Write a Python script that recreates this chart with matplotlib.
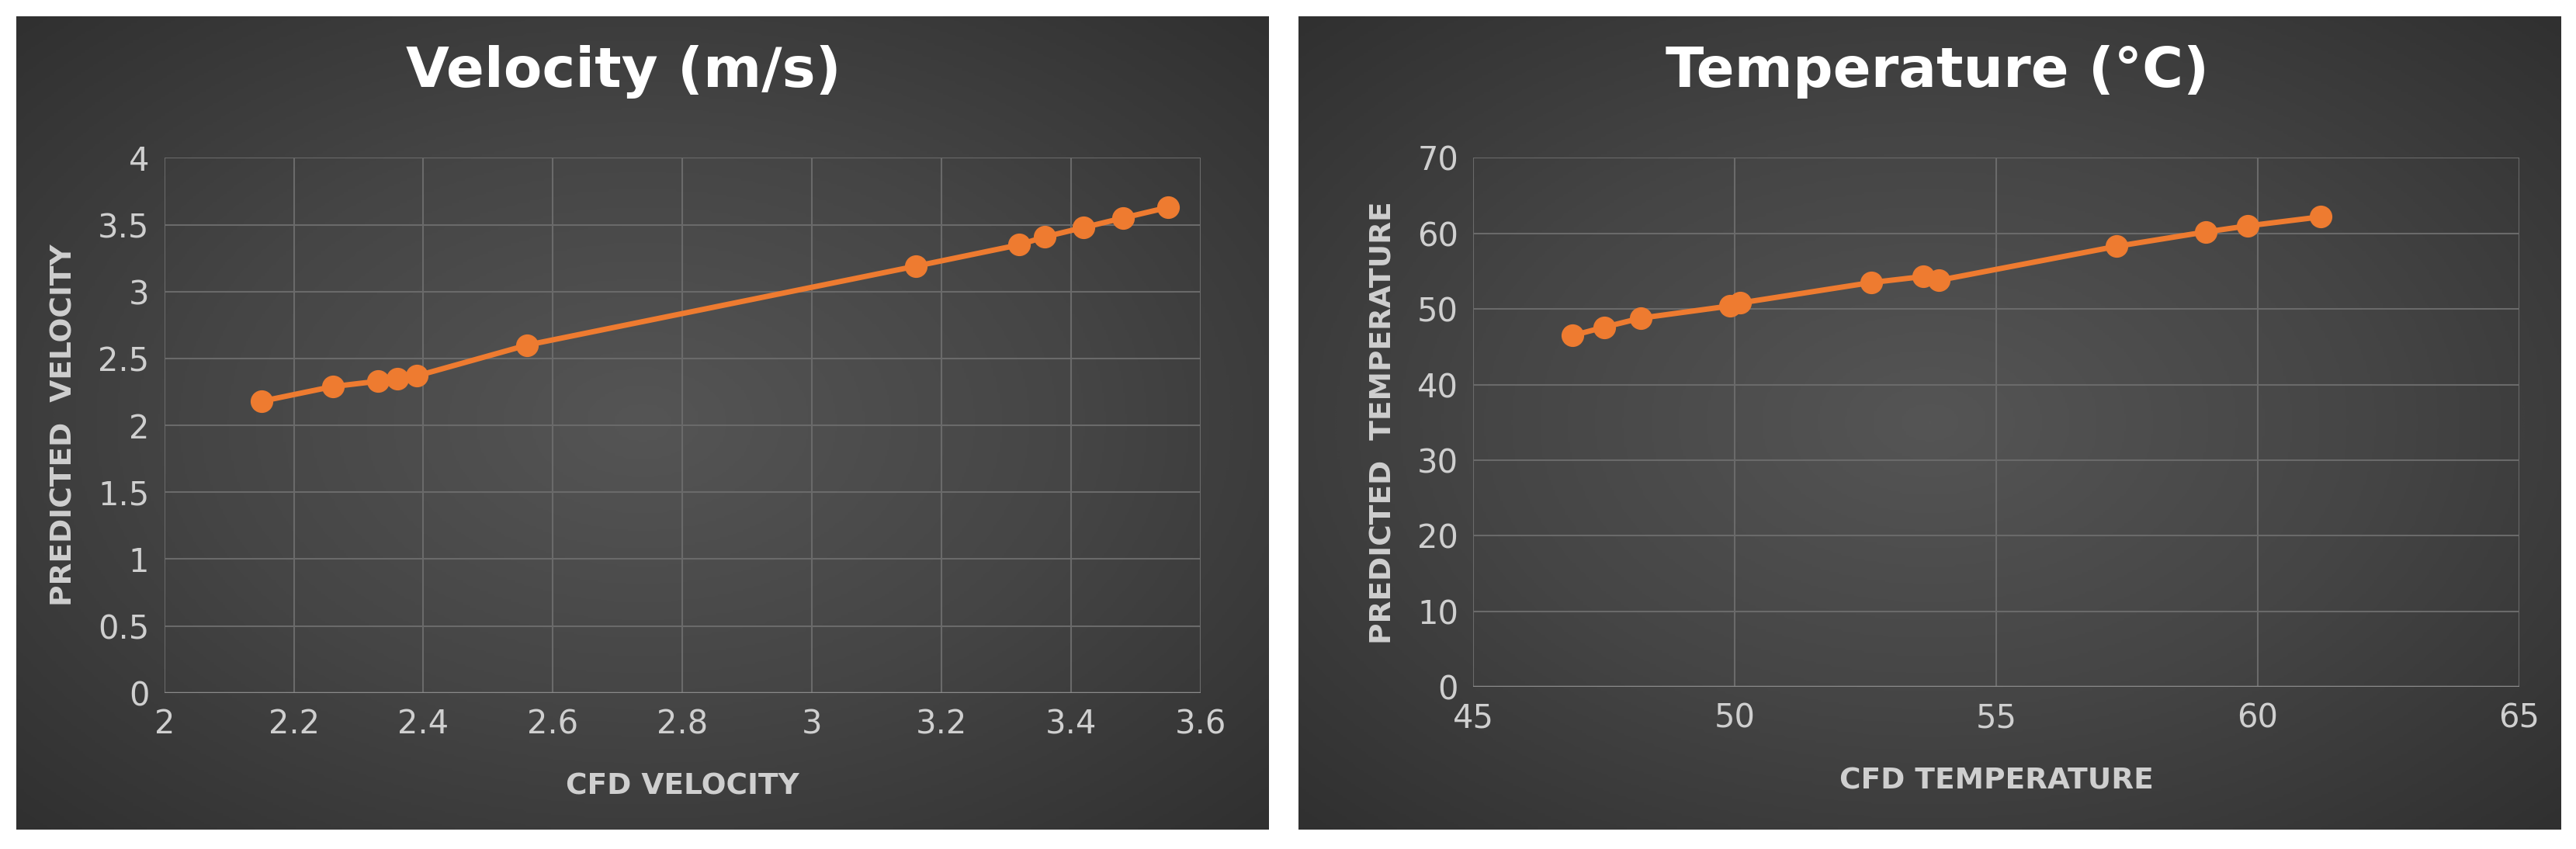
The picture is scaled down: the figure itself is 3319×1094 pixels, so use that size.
import numpy as np
import matplotlib
matplotlib.use('Agg')
import matplotlib.pyplot as plt
from matplotlib.colors import LinearSegmentedColormap

vel_cfd = [2.15, 2.26, 2.33, 2.36, 2.39, 2.56, 3.16, 3.32, 3.36, 3.42, 3.48, 3.55]
vel_pred = [2.18, 2.29, 2.33, 2.35, 2.37, 2.60, 3.19, 3.35, 3.41, 3.48, 3.55, 3.63]
temp_cfd = [46.9, 47.5, 48.2, 49.9, 50.1, 52.6, 53.6, 53.9, 57.3, 59.0, 59.8, 61.2]
temp_pred = [46.5, 47.6, 48.8, 50.4, 50.8, 53.5, 54.3, 53.8, 58.3, 60.2, 61.0, 62.2]

orange = '#EE7B30'
txt = '#cfcfcf'

fig = plt.figure(figsize=(33.19, 10.94), dpi=100)
fig.patch.set_facecolor('white')

# radial dark backgrounds
cmap = LinearSegmentedColormap.from_list('bg', ['#555555', '#454545', '#303030'])
yy, xx = np.mgrid[-1:1:300j, -1:1:600j]
grad = np.sqrt(xx ** 2 + yy ** 2)
for rect in ([0.0064, 0.023, 0.486, 0.958], [0.504, 0.023, 0.490, 0.958]):
    bg = fig.add_axes(rect)
    bg.imshow(grad, cmap=cmap, vmin=0, vmax=1.414, aspect='auto',
              extent=[0, 1, 0, 1])
    bg.set_axis_off()


def panel(rect, x, y, xlim, xticks, ylim, yticks, title, xlabel, ylabel, tx):
    ax = fig.add_axes(rect)
    ax.patch.set_alpha(0)
    ax.plot(x, y, '-o', color=orange, lw=5, ms=20, zorder=3)
    ax.set_xlim(*xlim)
    ax.set_ylim(*ylim)
    ax.set_xticks(xticks)
    ax.set_yticks(yticks)
    ax.set_xticklabels([('%g' % v) for v in xticks])
    ax.set_yticklabels([('%g' % v) for v in yticks])
    ax.grid(True, color='#6a6a6a', lw=1.5)
    ax.set_axisbelow(True)
    for s in ax.spines.values():
        s.set_visible(False)
    ax.axhline(ylim[0], color='#8a8a8a', lw=2.5)
    ax.tick_params(colors=txt, labelsize=30, length=0, pad=14)
    ax.set_xlabel(xlabel, color=txt, fontsize=27, fontweight='bold', labelpad=30)
    ax.set_ylabel(ylabel, color=txt, fontsize=27, fontweight='bold', labelpad=18)
    fig.text(tx, 0.915, title, color='white', fontsize=52, fontweight='bold',
             ha='center', va='center')
    return ax


panel([0.0638, 0.184, 0.4022, 0.630], vel_cfd, vel_pred, (2, 3.6),
      np.arange(2, 3.61, 0.2).round(1), (0, 4), np.arange(0, 4.01, 0.5),
      'Velocity (m/s)', 'CFD VELOCITY', 'PREDICTED  VELOCITY', 0.242)
panel([0.572, 0.191, 0.406, 0.623], temp_cfd, temp_pred, (45, 65),
      [45, 50, 55, 60, 65], (0, 70), np.arange(0, 71, 10),
      'Temperature (°C)', 'CFD TEMPERATURE', 'PREDICTED  TEMPERATURE', 0.752)

fig.savefig('out.png', dpi=100)
